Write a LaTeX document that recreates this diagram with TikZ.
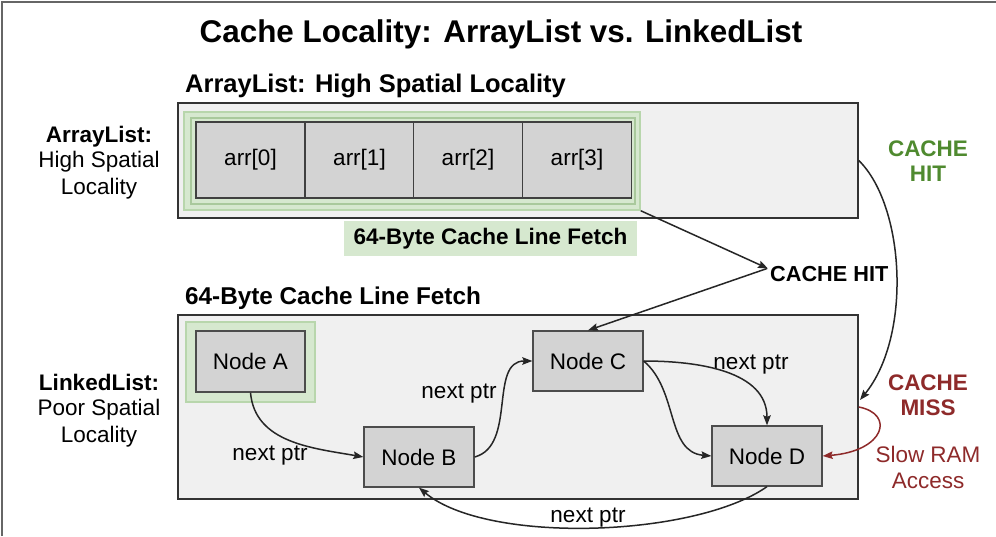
\documentclass[tikz,border=0pt]{standalone}
\usepackage{fontspec}
\setmainfont{Liberation Sans}
\usetikzlibrary{arrows.meta}
\definecolor{boxfill}{HTML}{F0F0F0}
\definecolor{cellfill}{HTML}{D3D3D3}
\definecolor{hlfill}{HTML}{D6E8CF}
\definecolor{hldraw}{HTML}{B8D6AC}
\definecolor{hlinner}{HTML}{A9C99C}
\definecolor{hitgreen}{HTML}{4F8A2F}
\definecolor{missred}{HTML}{8E2A2A}
\newcommand\myfs[1]{\fontsize{#1}{#1}\selectfont}
\begin{document}
\begin{tikzpicture}[x=1pt,y=1pt,
  txt/.style={font=\myfs{22.5}, inner sep=0pt, anchor=base},
  btxt/.style={txt, font=\myfs{22.5}\bfseries},
  bigbox/.style={draw=black!80, line width=1.6pt, fill=boxfill, minimum width=680pt, inner sep=0pt},
  hl/.style={draw=hldraw, line width=1.5pt, fill=hlfill, inner sep=0pt},
  hlin/.style={draw=hlinner, line width=1.2pt, fill=hlfill, inner sep=0pt},
  cell/.style={draw=black!75, line width=1.3pt, fill=cellfill, minimum width=109pt, minimum height=76pt, inner sep=0pt, font=\myfs{22.5}},
  lnode/.style={draw=black!70, line width=1.3pt, fill=cellfill, minimum width=110pt, minimum height=60pt, inner sep=0pt, font=\myfs{22.5}},
  arr/.style={line width=1.5pt, draw=black!85, -{Stealth[length=10pt,width=7.5pt,inset=1.5pt]}},
]
\useasboundingbox (0,0) rectangle (996,536);
\fill[white] (0,0) rectangle (996,536);
\draw[black!60, line width=1.5pt] (2,0) -- (2,534) -- (996,534);

% title and headings
\node[txt, font=\myfs{31.4}\bfseries] (title) at (501,493) {Cache Locality: ArrayList vs. LinkedList};
\node[txt, anchor=base west, font=\myfs{25.5}\bfseries] (h1) at (185,443) {ArrayList: High Spatial Locality};
\node[txt, anchor=base west, font=\myfs{24.3}\bfseries] (h2) at (185,231) {64-Byte Cache Line Fetch};

% top box
\node[bigbox, minimum height=115pt] (top) at (518,375.5) {};
\node[hl, minimum width=456pt, minimum height=98pt] (hl1) at (412,375) {};
\node[hlin, minimum width=444pt, minimum height=86pt] (hl1in) at (413,375) {};
\node[cell] (c0) at (250.5,376) {arr[0]};
\node[cell] (c1) at (359.5,376) {arr[1]};
\node[cell] (c2) at (468,376) {arr[2]};
\node[cell] (c3) at (577,376) {arr[3]};
\node[fill=hlfill, minimum width=293pt, minimum height=35pt, inner sep=0pt, font=\myfs{22.5}\bfseries] (fetch) at (490.5,297.5) {64-Byte Cache Line Fetch};

% left labels
\node[btxt] (al1) at (99,393) {ArrayList:};
\node[txt] (al2) at (99,368) {High Spatial};
\node[txt] (al3) at (99,341) {Locality};
\node[btxt] (ll1) at (99,146) {LinkedList:};
\node[txt] (ll2) at (99,121) {Poor Spatial};
\node[txt] (ll3) at (99,94) {Locality};

% bottom box
\node[bigbox, minimum height=184pt] (bot) at (518,129) {};
\node[hl, minimum width=129pt, minimum height=80pt] (hlA) at (250.5,174) {};
\node[lnode, minimum width=109pt, minimum height=61pt] (A) at (250.5,174.5) {Node A};
\node[lnode] (B) at (419,79) {Node B};
\node[lnode] (C) at (588,175) {Node C};
\node[lnode] (D) at (767,80) {Node D};

% pointer labels
\node[txt] (p1) at (270,76) {next ptr};
\node[txt] (p2) at (459,138) {next ptr};
\node[txt] (p3) at (751,166) {next ptr};
\node[txt] (p4) at (588,14) {next ptr};

% cache labels
\node[btxt, anchor=base west, font=\myfs{21.7}\bfseries] (hitmid) at (770,254) {CACHE HIT};
\node[btxt, text=hitgreen] (hr1) at (928,379) {CACHE};
\node[btxt, text=hitgreen] (hr2) at (928,354) {HIT};
\node[btxt, text=missred] (mr1) at (928,146) {CACHE};
\node[btxt, text=missred] (mr2) at (928,121) {MISS};
\node[txt, text=missred] (sr1) at (928,74) {Slow RAM};
\node[txt, text=missred] (sr2) at (928,48) {Access};

% connectors
\draw[arr] (A.south) to[out=-85,in=170] (B.west);
\draw[arr] (B.east) to[out=15,in=180] (C.west);
\draw[arr] (C.east) to[out=0,in=90] (D.north);
\draw[arr] (C.east) to[out=-40,in=175] (D.west);
\draw[arr] (D.south) to[out=-145,in=-40,looseness=0.65] (B.south);
\draw[arr] (hl1.south east) -- ([xshift=-2pt,yshift=6pt]hitmid.west);
\draw[arr] ([xshift=-3pt,yshift=6pt]hitmid.west) -- (C.north);
\coordinate (missin) at (860,136);
\draw[arr] (top.east) .. controls (905,330) and (912,200) .. (missin);
\draw[arr, draw=missred, -{Stealth[length=10pt,width=7.5pt,inset=1.5pt,fill=missred]}] (bot.east) .. controls (895,122) and (885,85) .. (D.east);
\end{tikzpicture}
\end{document}
